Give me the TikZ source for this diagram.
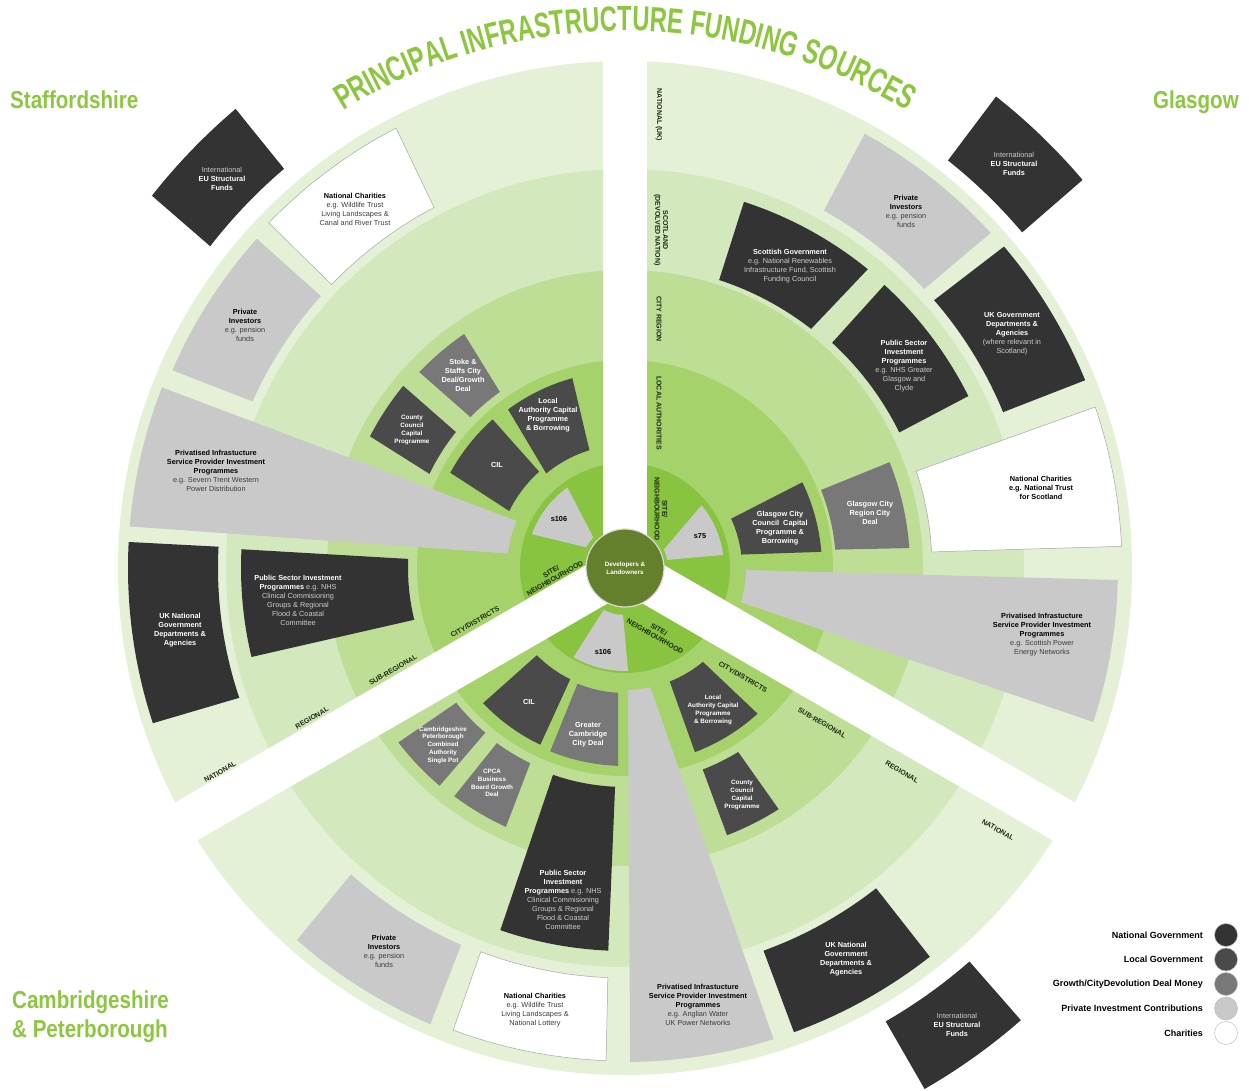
\documentclass[tikz,border=0pt]{standalone}
\usepackage{fontspec}
\setmainfont{Liberation Sans}
\newfontfamily\titlefont[FakeStretch=0.68]{Liberation Sans}
\newfontfamily\placefont[FakeStretch=0.84]{Liberation Sans}
\usetikzlibrary{calc, decorations.text}

\definecolor{ringnat}{RGB}{228,241,214}
\definecolor{ringreg}{RGB}{211,232,189}
\definecolor{ringsub}{RGB}{190,222,150}
\definecolor{ringcity}{RGB}{166,210,108}
\definecolor{ringsite}{RGB}{136,196,64}
\definecolor{hubgreen}{RGB}{100,128,45}
\definecolor{brandgreen}{RGB}{141,198,63}
\definecolor{natgrey}{RGB}{51,51,51}
\definecolor{locgrey}{RGB}{74,74,74}
\definecolor{dealgrey}{RGB}{120,120,120}
\definecolor{privgrey}{RGB}{201,201,201}
\definecolor{palegrey}{RGB}{205,205,205}
\definecolor{inkgrey}{RGB}{60,60,60}
\definecolor{labelink}{RGB}{28,40,18}

\newcommand{\hdw}[1]{\textbf{\color{white}#1}}
\newcommand{\hdk}[1]{\textbf{\color{black}#1}}

% ring box: style, inner radius, inner from/to angle, outer radius, outer from/to angle
\newcommand{\sourcebox}[7]{%
  \path[#1] (#3:#2) arc[start angle=#3, end angle=#4, radius=#2]
    -- (#7:#5) arc[start angle=#7, end angle=#6, radius=#5] -- cycle;}

\tikzset{
  natbox/.style={fill=natgrey},
  locbox/.style={fill=locgrey},
  dealbox/.style={fill=dealgrey},
  privbox/.style={fill=privgrey},
  charitybox/.style={fill=white, draw=black!35, line width=0.5},
  boxtext/.style={align=center, inner sep=0pt, font=\fontsize{7.3}{9}\selectfont},
  darktext/.style={boxtext, text=palegrey},
  lighttext/.style={boxtext, text=inkgrey},
  smalltext/.style={font=\fontsize{6.3}{7.8}\selectfont},
  ringlabel/.style={align=center, inner sep=0pt, text=labelink,
    font=\bfseries\fontsize{7}{7.6}\selectfont},
  legendtext/.style={anchor=east, inner sep=0pt, font=\bfseries\fontsize{9}{10}\selectfont},
  legenddot/.style={circle, minimum size=23, inner sep=0pt, draw=black!25, line width=0.5},
  placename/.style={inner sep=0pt, text=brandgreen,
    font=\placefont\bfseries\fontsize{24.5}{29}\selectfont},
}

\begin{document}
\begin{tikzpicture}[x=1pt, y=1pt]
  \useasboundingbox (-625,-523) rectangle (624,568);

  % rings, outside in
  \fill[ringnat] (0,0) circle[radius=507];
  \fill[ringreg] (0,0) circle[radius=399];
  \fill[ringsub] (0,0) circle[radius=298];
  \fill[ringcity] (0,0) circle[radius=208];
  \fill[ringsite] (0,0) circle[radius=105];

  % Staffordshire
  \sourcebox{natbox}{525}{130.5}{142.2}{602}{130.3}{141.8}
  \sourcebox{charitybox}{408}{117.9}{136}{496}{117.5}{135.9}
  \sourcebox{privbox}{408}{138.2}{155.9}{494}{138.2}{156.4}
  \sourcebox{privbox}{118}{156.5}{173}{497}{158.7}{175.2}
  \sourcebox{locbox}{217}{141.2}{154.3}{287}{140.6}{152.7}
  \sourcebox{dealbox}{216}{125.4}{135.7}{284}{124.5}{136.4}
  \sourcebox{locbox}{123}{106.8}{129.8}{197}{105.5}{126.4}
  \sourcebox{locbox}{129}{131.7}{153.8}{199}{131.7}{151.4}
  \sourcebox{privbox}{44}{136}{152}{99}{125.6}{160}
  \sourcebox{natbox}{407}{177}{198.6}{497}{177}{198.2}
  \sourcebox{natbox}{217}{177.6}{193.8}{384}{177.2}{193.4}

  % Glasgow
  \sourcebox{natbox}{520}{40.2}{51.6}{600}{40.3}{51.8}
  \sourcebox{privbox}{409}{43}{60.9}{496}{42.5}{61.1}
  \sourcebox{natbox}{303}{52.1}{71.9}{385}{50.9}{72}
  \sourcebox{natbox}{306}{26.3}{47.4}{384}{26.6}{47.5}
  \sourcebox{natbox}{409}{22.4}{40.9}{497}{22.2}{40.3}
  \sourcebox{charitybox}{307}{3}{18.4}{497}{2.5}{18.9}
  \sourcebox{dealbox}{211}{5}{21.7}{285}{4}{21.8}
  \sourcebox{locbox}{117}{6.6}{24.9}{197}{4.7}{25.8}
  \sourcebox{privbox}{43}{10.8}{25.3}{99}{7.6}{39.3}
  \sourcebox{privbox}{121}{-16.5}{-0.9}{493}{-18.2}{-1.4}

  % Cambridgeshire & Peterborough
  \sourcebox{natbox}{523}{-60.1}{-48.8}{601}{-60.1}{-48.8}
  \sourcebox{natbox}{407}{-70.1}{-51.9}{494}{-70}{-51.9}
  \sourcebox{privbox}{122}{-88.6}{-78}{494}{-89.4}{-72.5}
  \sourcebox{locbox}{122}{-68.5}{-50.3}{197}{-69.2}{-47.7}
  \sourcebox{locbox}{216}{-68.9}{-58.4}{286}{-69.1}{-57.5}
  \sourcebox{privbox}{47}{-117}{-92.4}{103}{-120}{-88.3}
  \sourcebox{locbox}{124}{-135.3}{-116.2}{196}{-136.4}{-115.6}
  \sourcebox{dealbox}{125}{-112.3}{-93.2}{198}{-112.2}{-92}
  \sourcebox{dealbox}{216}{-141.4}{-130.3}{286}{-142.4}{-130.4}
  \sourcebox{dealbox}{217}{-126.2}{-115.9}{285}{-126.8}{-114.7}
  \sourcebox{natbox}{219}{-109.2}{-92.6}{383}{-109}{-92.5}
  \sourcebox{privbox}{411}{-131.8}{-113.5}{496}{-131.4}{-113.1}
  \sourcebox{charitybox}{410}{-110.6}{-92.4}{493}{-110.4}{-92.2}

  % white gaps between the three areas
  \foreach \a in {90,210,330}
    \fill[white, rotate=\a] (0,-22) rectangle (530,22);

  \node[circle, fill=hubgreen, draw=white!85!black, line width=1.2, minimum size=78,
    inner sep=0pt, text=white, align=center,
    font=\bfseries\fontsize{6.3}{7.6}\selectfont] (hub) at (0,0) {Developers \&\\Landowners};

  % Staffordshire texts
  \node[darktext] (stEU) at (-403,389) {International\\\hdw{EU Structural}\\\hdw{Funds}};
  \node[lighttext] (stCharity) at (-270,359) {\hdk{National Charities}\\e.g. Wildlife Trust\\Living Landscapes \&\\Canal and River Trust};
  \node[lighttext] (stPrivate) at (-380,243) {\hdk{Private}\\\hdk{Investors}\\e.g. pension\\funds};
  \node[lighttext] (stUtility) at (-409,97) {\hdk{Privatised Infrastucture}\\\hdk{Service Provider Investment}\\\hdk{Programmes}\\e.g. Severn Trent Western\\Power Distribution};
  \node[darktext, smalltext] (stCounty) at (-213,138) {\hdw{County}\\\hdw{Council}\\\hdw{Capital}\\\hdw{Programme}};
  \node[darktext] (stDeal) at (-162,193) {\hdw{Stoke \&}\\\hdw{Staffs City}\\\hdw{Deal/Growth}\\\hdw{Deal}};
  \node[darktext] (stLocal) at (-77,153) {\hdw{Local}\\\hdw{Authority Capital}\\\hdw{Programme}\\\hdw{\& Borrowing}};
  \node[darktext] (stCIL) at (-128,103) {\hdw{CIL}};
  \node[lighttext] (stS106) at (-66,49) {\hdk{s106}};
  \node[darktext] (stNational) at (-445,-62) {\hdw{UK National}\\\hdw{Government}\\\hdw{Departments \&}\\\hdw{Agencies}};
  \node[darktext] (stPublic) at (-327,-32) {\hdw{Public Sector Investment}\\\hdw{Programmes} e.g. NHS\\Clinical Commisioning\\Groups \& Regional\\Flood \& Coastal\\Committee};

  % Glasgow texts
  \node[darktext] (glEU) at (389,404) {International\\\hdw{EU Structural}\\\hdw{Funds}};
  \node[lighttext] (glPrivate) at (281,357) {\hdk{Private}\\\hdk{Investors}\\e.g. pension\\funds};
  \node[darktext] (glScot) at (165,302) {\hdw{Scottish Government}\\e.g. National Renewables\\Infrastructure Fund, Scottish\\Funding Council};
  \node[darktext] (glPublic) at (279,202) {\hdw{Public Sector}\\\hdw{Investment}\\\hdw{Programmes}\\e.g. NHS Greater\\Glasgow and\\Clyde};
  \node[darktext] (glUKgov) at (387,234) {\hdw{UK Government}\\\hdw{Departments \&}\\\hdw{Agencies}\\(where relevant in\\Scotland)};
  \node[lighttext] (glCharity) at (416,80) {\hdk{National Charities}\\\hdk{e.g. National Trust}\\\hdk{for Scotland}};
  \node[darktext] (glDeal) at (245,55) {\hdw{Glasgow City}\\\hdw{Region City}\\\hdw{Deal}};
  \node[darktext] (glCouncil) at (155,40) {\hdw{Glasgow City}\\\hdw{Council\ \ Capital}\\\hdw{Programme \&}\\\hdw{Borrowing}};
  \node[lighttext] (glS75) at (75,32) {\hdk{s75}};
  \node[lighttext] (glUtility) at (417,-67) {\hdk{Privatised Infrastucture}\\\hdk{Service Provider Investment}\\\hdk{Programmes}\\e.g. Scottish Power\\Energy Networks};

  % Cambridgeshire & Peterborough texts
  \node[darktext] (cbEU) at (332,-457) {International\\\hdw{EU Structural}\\\hdw{Funds}};
  \node[darktext] (cbNational) at (221,-391) {\hdw{UK National}\\\hdw{Government}\\\hdw{Departments \&}\\\hdw{Agencies}};
  \node[lighttext] (cbUtility) at (73,-437) {\hdk{Privatised Infrastucture}\\\hdk{Service Provider Investment}\\\hdk{Programmes}\\e.g. Anglian Water\\UK Power Networks};
  \node[darktext, smalltext] (cbLocal) at (88,-142) {\hdw{Local}\\\hdw{Authority Capital}\\\hdw{Programme}\\\hdw{\& Borrowing}};
  \node[darktext, smalltext] (cbCounty) at (117,-227) {\hdw{County}\\\hdw{Council}\\\hdw{Capital}\\\hdw{Programme}};
  \node[lighttext] (cbS106) at (-22,-84) {\hdk{s106}};
  \node[darktext] (cbCIL) at (-96,-134) {\hdw{CIL}};
  \node[darktext] (cbDeal) at (-37,-167) {\hdw{Greater}\\\hdw{Cambridge}\\\hdw{City Deal}};
  \node[darktext, smalltext] (cbCombined) at (-182,-177) {\hdw{Cambridgeshire}\\\hdw{Peterborough}\\\hdw{Combined}\\\hdw{Authority}\\\hdw{Single Pot}};
  \node[darktext, smalltext] (cbCPCA) at (-133,-215) {\hdw{CPCA}\\\hdw{Business}\\\hdw{Board Growth}\\\hdw{Deal}};
  \node[darktext] (cbPublic) at (-62,-332) {\hdw{Public Sector}\\\hdw{Investment}\\\hdw{Programmes} e.g. NHS\\Clinical Commisioning\\Groups \& Regional\\Flood \& Coastal\\Committee};
  \node[lighttext] (cbPrivate) at (-241,-383) {\hdk{Private}\\\hdk{Investors}\\e.g. pension\\funds};
  \node[lighttext] (cbCharity) at (-90,-442) {\hdk{National Charities}\\e.g. Wildlife Trust\\Living Landscapes \&\\National Lottery};

  % ring labels along the gaps
  \node[ringlabel, rotate=30] (stRNat) at (-405,-204) {NATIONAL};
  \node[ringlabel, rotate=30] (stRReg) at (-313,-150) {REGIONAL};
  \node[ringlabel, rotate=30] (stRSub) at (-232,-102) {SUB-REGIONAL};
  \node[ringlabel, rotate=30] (stRCity) at (-150,-54) {CITY/DISTRICTS};
  \node[ringlabel, rotate=30] (stRSite) at (-72,-7) {SITE/\\NEIGHBOURHOOD};

  \node[ringlabel, rotate=-90] (glRNat) at (34,453) {NATIONAL (UK)};
  \node[ringlabel, rotate=-90] (glRScot) at (36,338) {SCOTLAND\\(DEVOLVED NATION)};
  \node[ringlabel, rotate=-90] (glRCity) at (34,249) {CITY REGION};
  \node[ringlabel, rotate=-90] (glRLocal) at (34,155) {LOCAL AUTHORITIES};
  \node[ringlabel, rotate=-90] (glRSite) at (36,59) {SITE/\\NEIGHBOURHOOD};

  \node[ringlabel, rotate=-30] (cbRSite) at (32,-65) {SITE/\\NEIGHBOURHOOD};
  \node[ringlabel, rotate=-30] (cbRCity) at (118,-109) {CITY/DISTRICTS};
  \node[ringlabel, rotate=-30] (cbRSub) at (197,-155) {SUB-REGIONAL};
  \node[ringlabel, rotate=-30] (cbRReg) at (277,-204) {REGIONAL};
  \node[ringlabel, rotate=-30] (cbRNat) at (373,-262) {NATIONAL};

  % title on an arc
  \path[decoration={text along path, text align=center, text color=brandgreen,
      text={|\titlefont\bfseries\fontsize{35}{35}\selectfont|PRINCIPAL INFRASTRUCTURE FUNDING SOURCES}},
    decorate] (140:537) arc[start angle=140, end angle=40, radius=537];

  \node[placename, anchor=base west] (staffsname) at (-615,459) {Staffordshire};
  \node[placename, anchor=base east] (glasgowname) at (614,459) {Glasgow};
  \node[placename, anchor=north west, align=left] (cambsname) at (-613,-423)
    {Cambridgeshire\\\& Peterborough};

  % legend
  \foreach \lab/\col [count=\i] in {National Government/natgrey, Local Government/locgrey,
      {Growth/CityDevolution Deal Money}/dealgrey, Private Investment Contributions/privgrey,
      Charities/white} {
    \node[legenddot, fill=\col] (legdot\i) at (601,{-367-24.5*(\i-1)}) {};
    \node[legendtext] (leg\i) at (578,{-367-24.5*(\i-1)}) {\lab};
  }
\end{tikzpicture}
\end{document}
